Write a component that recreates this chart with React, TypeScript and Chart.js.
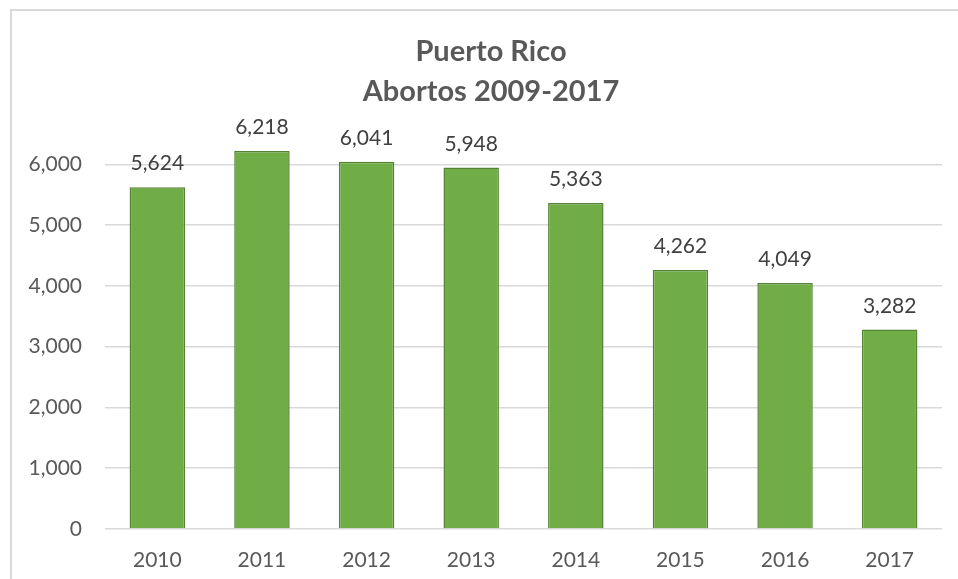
import React, { useEffect, useRef } from "react";
import { Chart, registerables } from "chart.js";

Chart.register(...registerables);

const categories = ["2010", "2011", "2012", "2013", "2014", "2015", "2016", "2017"];
const abortos = [5624, 6218, 6041, 5948, 5363, 4262, 4049, 3282];
const titleLines = ["Puerto Rico", "Abortos 2009-2017"];
const yTicks = [0, 1000, 2000, 3000, 4000, 5000, 6000];
const yMin = 0;
const yMax = 6400;

const FONT = "Lato, 'Open Sans', sans-serif";
const fmt = (v: number) => v.toLocaleString("en-US");

const frameAndLabels = {
  id: "frameAndLabels",
  beforeDraw(chart: any) {
    const ctx = chart.ctx;
    ctx.save();
    ctx.fillStyle = "#ffffff";
    ctx.fillRect(0, 0, chart.width, chart.height);
    ctx.strokeStyle = "#d9d9d9";
    ctx.lineWidth = 2;
    ctx.strokeRect(11, 10, chart.width + 20, chart.height + 20);
    ctx.restore();
  },
  afterDatasetsDraw(chart: any) {
    const ctx = chart.ctx;
    const meta = chart.getDatasetMeta(0);
    const data = chart.data.datasets[0].data as number[];
    ctx.save();
    ctx.font = `21px ${FONT}`;
    ctx.fillStyle = "#404040";
    ctx.textAlign = "center";
    ctx.textBaseline = "alphabetic";
    meta.data.forEach((bar: any, i: number) => {
      ctx.fillText(fmt(data[i]), bar.x, bar.y - 17);
    });
    ctx.restore();
  },
};

export default function App() {
  const ref = useRef<HTMLCanvasElement | null>(null);
  useEffect(() => {
    if (!ref.current) return;
    const chart = new Chart(ref.current, {
      type: "bar",
      data: {
        labels: categories,
        datasets: [
          {
            data: abortos,
            yAxisID: "y",
            backgroundColor: "#70ad47",
            borderColor: "#548235",
            borderWidth: 1.5,
            barPercentage: 0.53,
            categoryPercentage: 1,
          },
        ],
      },
      options: {
        responsive: false,
        animation: false,
        devicePixelRatio: 1,
        layout: { padding: { left: 24, right: 0, top: 0, bottom: 10 } },
        plugins: {
          legend: { display: false },
          tooltip: { enabled: false },
          title: {
            display: true,
            text: titleLines,
            color: "#595959",
            font: { family: FONT, size: 29, weight: "bold", lineHeight: 1.38 },
            padding: { top: 32, bottom: 28 },
          },
        },
        scales: {
          x: {
            grid: { display: false },
            border: { display: false },
            afterFit: (scale: any) => {
              scale.height = 40;
            },
            ticks: {
              color: "#595959",
              font: { family: FONT, size: 21 },
              padding: 11,
            },
          },
          y: {
            min: yMin,
            max: yMax,
            border: { display: false },
            grid: { color: "#d9d9d9", lineWidth: 1.5, drawTicks: false },
            afterBuildTicks: (scale: any) => {
              scale.ticks = yTicks.map((v) => ({ value: v }));
            },
            afterFit: (scale: any) => {
              scale.width = 81;
            },
            ticks: {
              autoSkip: false,
              color: "#595959",
              font: { family: FONT, size: 21 },
              padding: 23,
              callback: (v: any) => fmt(Number(v)),
            },
          },
          y2: {
            position: "right",
            min: yMin,
            max: yMax,
            border: { display: false },
            grid: { display: false, drawOnChartArea: false },
            ticks: { display: false },
            afterFit: (scale: any) => {
              scale.width = 16;
            },
          },
        },
      },
      plugins: [frameAndLabels],
    });
    return () => chart.destroy();
  }, []);
  return (
    <div style={{ position: "fixed", left: 0, top: 0, width: 958, height: 579 }}>
      <canvas ref={ref} width={958} height={579} style={{ width: 958, height: 579, display: "block" }} />
    </div>
  );
}
